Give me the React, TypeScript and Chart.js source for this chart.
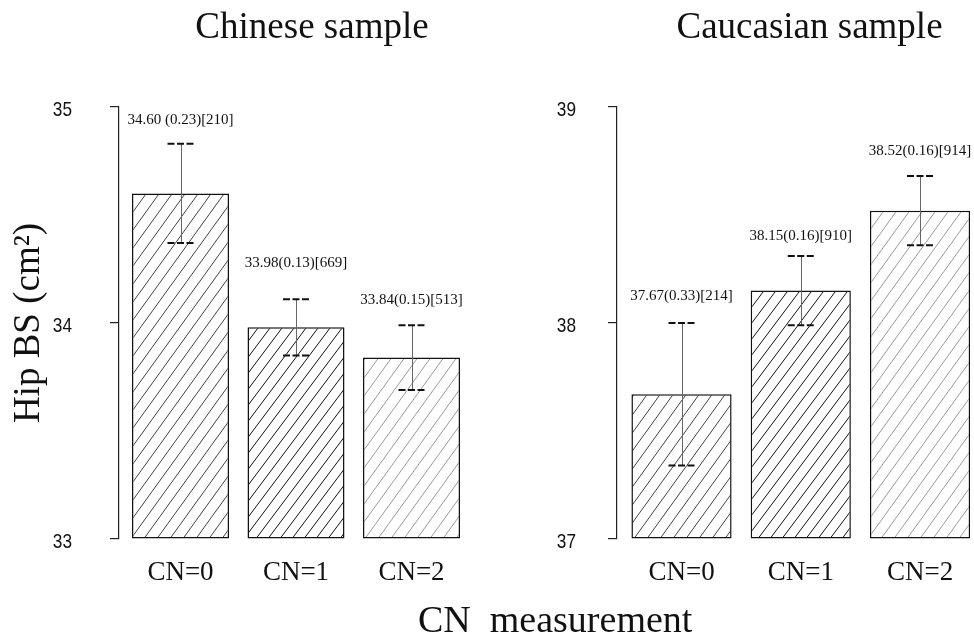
import React, { useEffect, useRef } from 'react';
import { Chart, registerables } from 'chart.js';

Chart.register(...registerables);

// ---- data ----
const categories = ['CN=0', 'CN=1', 'CN=2'];

const chineseMeans = [34.6, 33.98, 33.84];
const chineseSE = [0.23, 0.13, 0.15];
const chineseLabels = ['34.60 (0.23)[210]', '33.98(0.13)[669]', '33.84(0.15)[513]'];
const chineseLabelY = [34.92, 34.26, 34.09];
const chineseTicks = [33, 34, 35];

const caucasianMeans = [37.67, 38.15, 38.52];
const caucasianSE = [0.33, 0.16, 0.16];
const caucasianLabels = ['37.67(0.33)[214]', '38.15(0.16)[910]', '38.52(0.16)[914]'];
const caucasianLabelY = [38.107, 38.384, 38.78];
const caucasianTicks = [37, 38, 39];

const SERIF = '"Liberation Serif", "Times New Roman", serif';
const SANS = '"Liberation Sans", Arial, sans-serif';

function makeHatch(color: string, w: number, h: number): CanvasPattern | string {
  const c = document.createElement('canvas');
  c.width = w;
  c.height = h;
  const g = c.getContext('2d');
  if (!g) return '#fff';
  g.fillStyle = '#fff';
  g.fillRect(0, 0, w, h);
  g.strokeStyle = color;
  g.lineWidth = 1;
  for (const dx of [-w, 0, w]) {
    g.beginPath();
    g.moveTo(dx - w, 2 * h);
    g.lineTo(dx + 2 * w, -h);
    g.stroke();
  }
  const p = g.createPattern(c, 'repeat');
  return p || '#fff';
}

interface PanelProps {
  title: string;
  titleX: number;
  means: number[];
  se: number[];
  labels: string[];
  labelY: number[];
  ticks: number[];
  left: number;
  width: number;
  yWidth: number;
  padRight: number;
  xMin: number;
  xMax: number;
  labelGap: number;
  yTitle?: string;
}

function Panel(props: PanelProps) {
  const ref = useRef<HTMLCanvasElement | null>(null);
  useEffect(() => {
    if (!ref.current) return;
    const { means, se, labels, labelY, ticks } = props;
    const hatches = [makeHatch('#444', 13, 18), makeHatch('#111', 12, 16), makeHatch('#9a9a9a', 13, 18)];

    const overlay = {
      id: 'overlay',
      afterDatasetsDraw(chart: any) {
        const ctx = chart.ctx as CanvasRenderingContext2D;
        const meta = chart.getDatasetMeta(0);
        const ys = chart.scales.y;
        meta.data.forEach((bar: any, i: number) => {
          const x = bar.x;
          const top = ys.getPixelForValue(means[i] + se[i]);
          const bot = ys.getPixelForValue(means[i] - se[i]);
          ctx.save();
          ctx.strokeStyle = '#666';
          ctx.lineWidth = 1;
          const xr = Math.round(x) + 0.5;
          ctx.beginPath();
          ctx.moveTo(xr, top);
          ctx.lineTo(xr, bot);
          ctx.stroke();
          ctx.strokeStyle = '#111';
          ctx.lineWidth = 2;
          ctx.setLineDash([7, 2.5]);
          for (const y of [top, bot]) {
            ctx.beginPath();
            ctx.moveTo(x - 13, y);
            ctx.lineTo(x + 13, y);
            ctx.stroke();
          }
          ctx.setLineDash([]);
          ctx.font = `15px ${SERIF}`;
          ctx.fillStyle = '#111';
          ctx.textAlign = 'center';
          ctx.textBaseline = 'alphabetic';
          ctx.fillText(labels[i], x, ys.getPixelForValue(labelY[i]));
          ctx.restore();
        });
      },
      afterDraw(chart: any) {
        const ctx = chart.ctx as CanvasRenderingContext2D;
        const ys = chart.scales.y;
        ctx.save();
        ctx.font = `37px ${SERIF}`;
        ctx.fillStyle = '#111';
        ctx.textAlign = 'center';
        ctx.textBaseline = 'alphabetic';
        ctx.fillText(props.title, props.titleX, 38);
        // narrow y tick labels
        ctx.font = `21px ${SANS}`;
        ctx.textAlign = 'right';
        ctx.textBaseline = 'middle';
        ys.ticks.forEach((t: any) => {
          const y = ys.getPixelForValue(t.value);
          ctx.save();
          ctx.translate(chart.chartArea.left - props.labelGap, y + 3);
          ctx.scale(0.82, 1);
          ctx.fillText(String(t.value), 0, 0);
          ctx.restore();
        });
        ctx.restore();
      },
    };

    const chart = new Chart(ref.current, {
      type: 'bar',
      data: {
        datasets: [
          {
            data: means.map((m, i) => ({ x: i, y: m })),
            backgroundColor: hatches as any,
            borderColor: '#111',
            borderWidth: 1.5,
            borderSkipped: false,
            barPercentage: 0.84,
            categoryPercentage: 1,
            base: ticks[0],
          } as any,
        ],
      },
      options: {
        animation: false,
        responsive: false,
        events: [],
        layout: { padding: { top: 107, right: props.padRight, left: 0, bottom: 0 } },
        plugins: {
          legend: { display: false },
          tooltip: { enabled: false },
          title: { display: false },
        },
        scales: {
          x: {
            type: 'linear',
            offset: false,
            min: props.xMin,
            max: props.xMax,
            grid: { display: false, drawTicks: false, offset: false },
            border: { display: false },
            afterBuildTicks: (s: any) => {
              s.ticks = categories.map((_, i) => ({ value: i }));
            },
            afterFit: (s: any) => {
              s.height = 61;
            },
            ticks: {
              callback: (v: any) => categories[v as number] ?? '',
              font: { family: SERIF, size: 27 },
              color: '#111',
              padding: 18,
              autoSkip: false,
              maxRotation: 0,
            },
          },
          y: {
            min: ticks[0],
            max: ticks[ticks.length - 1],
            afterBuildTicks: (s: any) => {
              s.ticks = ticks.map((v) => ({ value: v }));
            },
            afterFit: (s: any) => {
              s.width = props.yWidth;
            },
            grid: { drawOnChartArea: false, drawTicks: true, tickLength: 9, color: '#222', lineWidth: 1.2 },
            border: { display: true, color: '#222', width: 1.2 },
            ticks: { display: false },
            title: props.yTitle
              ? {
                  display: true,
                  text: props.yTitle,
                  font: { family: SERIF, size: 37 },
                  color: '#111',
                  padding: { top: 7, bottom: 0 },
                }
              : { display: false },
          },
        },
      },
      plugins: [overlay],
    });
    return () => chart.destroy();
  }, []);
  return (
    <canvas
      ref={ref}
      width={props.width}
      height={600}
      style={{ position: 'absolute', left: props.left, top: 0, width: props.width, height: 600 }}
    />
  );
}

export default function App() {
  return (
    <div style={{ position: 'relative', width: 974, height: 642, background: '#fff', overflow: 'hidden' }}>
      <style>{`body{margin:0;background:#fff}`}</style>
      <Panel
        title="Chinese sample"
        titleX={312}
        means={chineseMeans}
        se={chineseSE}
        labels={chineseLabels}
        labelY={chineseLabelY}
        ticks={chineseTicks}
        left={0}
        width={490}
        yWidth={119}
        padRight={10}
        xMin={-0.5325}
        xMax={-0.5325 + (480 - 119) / 115.5}
        labelGap={47}
        yTitle="Hip BS (cm²)"
      />
      <Panel
        title="Caucasian sample"
        titleX={319.5}
        means={caucasianMeans}
        se={caucasianSE}
        labels={caucasianLabels}
        labelY={caucasianLabelY}
        ticks={caucasianTicks}
        left={490}
        width={484}
        yWidth={127}
        padRight={0}
        xMin={-0.541}
        xMax={-0.541 + 357 / 119.25}
        labelGap={41}
      />
      <div
        style={{
          position: 'absolute',
          left: 418,
          top: 600,
          font: `38px ${SERIF}`,
          lineHeight: '38px',
          whiteSpace: 'pre',
          color: '#111',
        }}
      >
        {'CN  measurement'}
      </div>
    </div>
  );
}
